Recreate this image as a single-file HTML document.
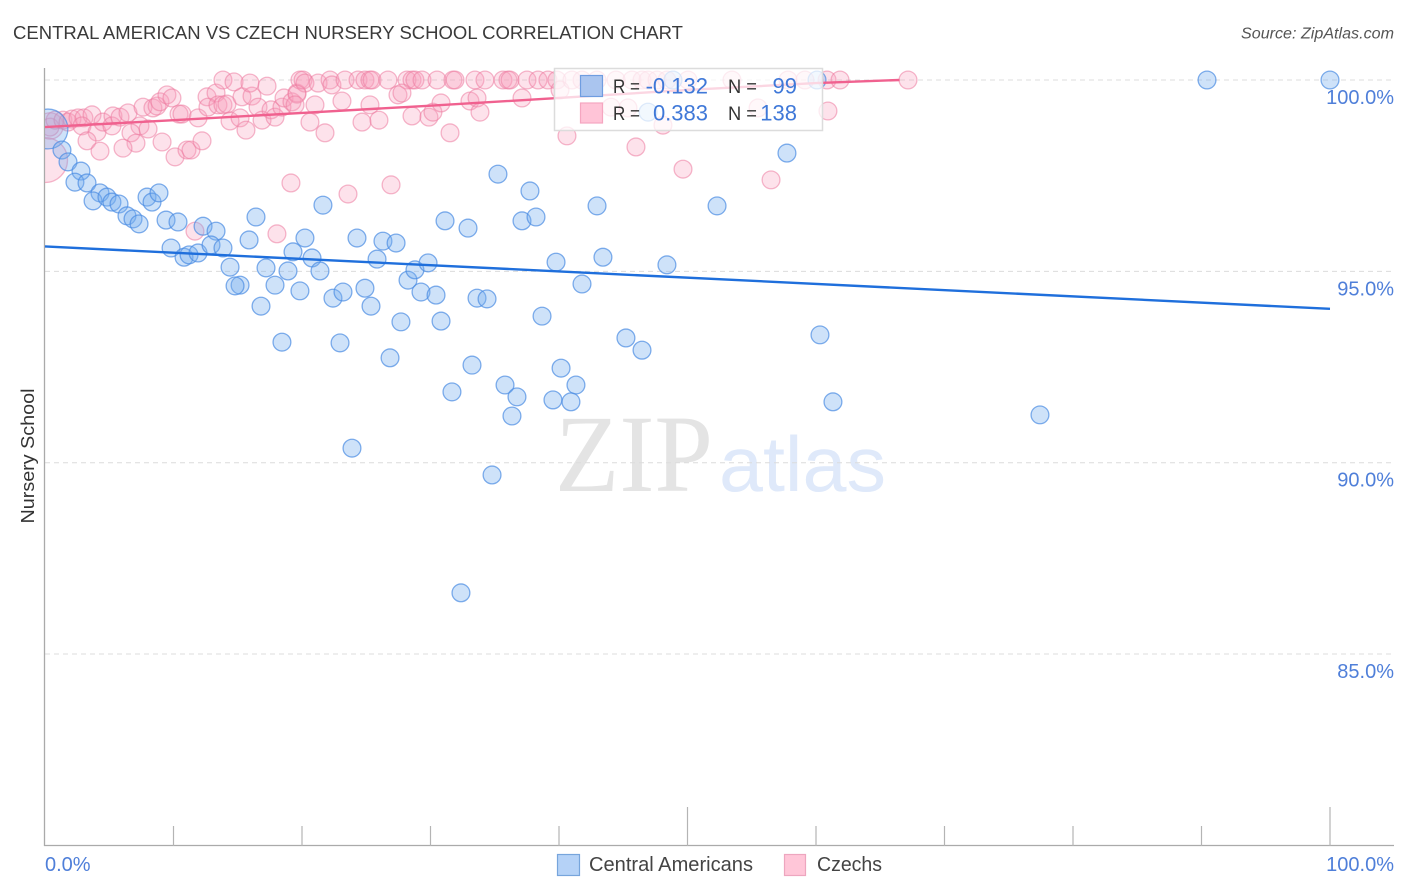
<!DOCTYPE html>
<html lang="en">
<head>
<meta charset="utf-8">
<title>Central American vs Czech Nursery School Correlation Chart</title>
<style>
html,body{margin:0;padding:0;background:#fff;}
body{width:1406px;height:892px;overflow:hidden;font-family:"Liberation Sans",sans-serif;}
svg{display:block;}
text{font-family:"Liberation Sans",sans-serif;}
</style>
</head>
<body>
<svg id="chart" width="1406" height="892" viewBox="0 0 1406 892" xmlns="http://www.w3.org/2000/svg">
  <defs><clipPath id="plot-clip"><rect x="45" y="60" width="1349" height="786"/></clipPath></defs>
  <text x="13" y="39" font-size="18.5" fill="#3a3a3a" textLength="670" lengthAdjust="spacingAndGlyphs">CENTRAL AMERICAN VS CZECH NURSERY SCHOOL CORRELATION CHART</text>
  <text x="1394" y="38.5" font-size="15.5" font-style="italic" fill="#555" text-anchor="end" textLength="153" lengthAdjust="spacingAndGlyphs">Source: ZipAtlas.com</text>
  <g id="watermark">
    <text x="555" y="491" font-size="110" fill="#e4e4e4" style="font-family:'Liberation Serif',serif" textLength="158" lengthAdjust="spacingAndGlyphs">ZIP</text>
    <text x="719" y="491" font-size="78" fill="#dfe9fa" textLength="167" lengthAdjust="spacingAndGlyphs">atlas</text>
  </g>
  <g id="grid"></g>
  <g id="axes"></g>
  <g id="pink-points" clip-path="url(#plot-clip)"></g>
  <g id="blue-points" clip-path="url(#plot-clip)"></g>
  <g id="trends"></g>
  <g id="labels"></g>
  <text transform="translate(34,456) rotate(-90)" font-size="18.5" fill="#333" text-anchor="middle" textLength="135" lengthAdjust="spacingAndGlyphs">Nursery School</text>

  <g>
    <rect x="554.5" y="68.5" width="268" height="62" fill="#fff" fill-opacity="0.74" stroke="#dcdcdc" stroke-width="1.5"/>
    <rect x="580.5" y="75.5" width="22" height="21" fill="#aac5ef" stroke="#6f9de0" stroke-width="1.2"/>
    <rect x="580.5" y="103" width="22" height="20" fill="#ffc4d7" stroke="#f5a6c0" stroke-width="1.2"/>
    <text x="613" y="93" font-size="19" fill="#333" textLength="27" lengthAdjust="spacingAndGlyphs">R =</text>
    <text x="708" y="93.5" font-size="22" fill="#3f78d8" text-anchor="end">-0.132</text>
    <text x="728" y="93" font-size="19" fill="#333" textLength="29" lengthAdjust="spacingAndGlyphs">N =</text>
    <text x="797" y="93.5" font-size="22" fill="#3f78d8" text-anchor="end">99</text>
    <text x="613" y="120" font-size="19" fill="#333" textLength="27" lengthAdjust="spacingAndGlyphs">R =</text>
    <text x="708" y="120.5" font-size="22" fill="#3f78d8" text-anchor="end">0.383</text>
    <text x="728" y="120" font-size="19" fill="#333" textLength="29" lengthAdjust="spacingAndGlyphs">N =</text>
    <text x="797" y="120.5" font-size="22" fill="#3f78d8" text-anchor="end">138</text>
  </g>

  <g>
    <rect x="557.5" y="854.5" width="22" height="21" fill="#b5d2f7" stroke="#77a5dc" stroke-width="1.2"/>
    <text x="589" y="871" font-size="20" fill="#444" textLength="164" lengthAdjust="spacingAndGlyphs">Central Americans</text>
    <rect x="784.5" y="854.5" width="21" height="21" fill="#ffc6d8" stroke="#eda6bf" stroke-width="1.2"/>
    <text x="817" y="871" font-size="20" fill="#444" textLength="65" lengthAdjust="spacingAndGlyphs">Czechs</text>
  </g>
</svg>
<script>
const yTickValues = [100, 95, 90, 85];
const yTickLabels = ["100.0%", "95.0%", "90.0%", "85.0%"];
const xTickValues = [10, 20, 30, 40, 50, 60, 70, 80, 90, 100];
const xMajorTicks = [50, 100];
const xEndValues = [0, 100];
const xEndLabels = ["0.0%", "100.0%"];

const centralX = [0.23,1.32,1.79,2.80,2.33,3.27,4.28,3.74,4.82,5.21,5.76,6.38,6.85,7.32,7.94,8.33,8.87,9.42,10.35,12.30,13.31,9.81,10.82,11.21,11.91,12.92,13.85,14.40,15.88,16.42,17.20,19.30,17.90,18.91,20.23,20.78,19.84,15.18,14.79,16.81,18.44,21.40,22.41,23.19,22.96,24.28,25.84,26.30,27.32,24.90,25.37,21.63,28.25,28.79,29.26,29.81,30.43,27.70,30.82,26.85,31.13,32.92,33.23,33.62,34.40,31.67,23.89,34.79,35.80,36.73,36.34,35.25,37.74,37.12,38.21,39.77,38.68,40.16,41.32,39.53,40.93,41.79,42.96,43.42,45.21,46.46,48.40,52.30,57.74,60.31,61.32,77.43,90.43,100,32.37,46.93,48.87,60.08];
const centralY = [98.72,98.17,97.86,97.62,97.33,97.31,97.05,96.84,96.94,96.81,96.76,96.45,96.37,96.24,96.94,96.81,97.05,96.34,96.29,96.18,96.05,95.61,95.37,95.43,95.48,95.69,95.61,95.11,95.82,96.42,95.09,95.51,94.64,95.01,95.87,95.35,94.49,94.64,94.62,94.09,93.15,95.01,94.30,94.46,93.13,95.87,95.32,95.79,95.74,94.56,94.09,96.73,94.77,95.04,94.46,95.22,94.38,93.68,93.70,92.74,96.32,96.13,92.55,94.30,94.28,91.85,90.38,89.68,92.03,91.72,91.22,97.54,97.10,96.32,96.42,95.24,93.83,92.47,92.03,91.64,91.59,94.67,96.71,95.37,93.26,92.94,95.17,96.71,98.09,93.34,91.59,91.25,100,100,86.60,99.16,100,100];
const centralWeight = [5];

const czechX = [0,0.39,0.39,0.78,1.40,1.79,2.10,2.57,3.03,3.66,2.88,4.05,3.27,4.28,4.51,5.29,5.21,5.84,6.46,7.39,8.02,6.69,7.08,6.07,7.63,8.40,8.72,8.95,9.49,9.88,9.11,10.12,11.05,11.36,12.22,10.43,10.66,11.91,12.61,13.31,12.68,13.46,13.85,14.16,14.40,15.18,15.64,15.33,16.11,16.58,16.89,17.59,17.90,18.44,18.60,19.22,19.61,13.85,14.71,15.95,17.28,19.84,20.08,20.23,19.61,19.46,21.01,21.25,22.18,22.33,23.35,24.36,24.90,25.29,25.45,26.69,28.17,28.56,28.79,29.34,30.51,31.75,31.91,33.46,34.24,35.64,36.03,36.19,37.51,38.37,39.14,39.84,27.47,27.78,23.11,25.29,20.62,21.79,24.67,25.99,28.56,29.88,30.19,30.82,33.07,33.62,33.85,31.52,37.12,40.08,40.62,45.99,49.65,56.50,48.09,60.93,44.05,45.37,55.49,41.01,41.79,42.96,44.44,45.68,46.46,46.93,47.63,48.40,50.04,53.46,57.82,59.14,60.86,61.87,67.16,19.14,23.58,26.93,11.67,18.05];
const czechY = [97.91,98.80,98.77,98.95,98.95,98.90,98.98,99.01,99.01,99.09,98.80,98.64,98.41,98.14,98.90,99.06,98.80,99.03,99.14,98.80,98.72,98.62,98.35,98.22,99.29,99.27,99.32,99.43,99.61,99.53,98.38,97.99,98.17,98.17,98.41,99.11,99.11,99.01,99.56,99.66,99.29,99.35,99.35,99.37,98.93,99.01,98.69,99.56,99.58,99.29,98.95,99.22,99.03,99.29,99.53,99.43,99.66,100,99.95,99.92,99.84,100,100,99.92,99.63,99.35,99.35,99.92,100,99.87,100,100,100,100,100,100,100,100,100,100,100,100,100,100,100,100,100,100,100,100,100,100,99.61,99.66,99.45,99.35,98.90,98.62,98.90,98.95,99.06,99.03,99.16,99.40,99.45,99.53,99.16,98.62,99.53,99.74,98.54,98.25,97.67,97.39,98.82,99.19,99.29,99.27,99.27,100,100,100,100,100,100,100,100,100,100,100,100,100,100,100,100,97.31,97.02,97.26,96.05,95.98];
const czechWeight = [6.4, 2.2];

const centralTrendX = [0, 100];
const centralTrendY = [95.65, 94.02];
const czechTrendX = [0, 10, 20, 30, 40, 50, 60, 66.5];
const czechTrendY = [98.77, 98.95, 99.14, 99.33, 99.53, 99.74, 99.92, 100];

const NS = "http://www.w3.org/2000/svg";
function xScale(v) { return 45 + v * 12.85; }
function yScale(v) { return 80 + (100 - v) * 38.27; }
function radius(w) { return 8.9 * Math.sqrt(w); }

const gridG = document.getElementById("grid");
yTickValues.forEach(function (v) {
  const l = document.createElementNS(NS, "line");
  
  
  l.setAttribute("x1", 45);
  l.setAttribute("x2", 1393);
  l.setAttribute("y1", yScale(v));
  l.setAttribute("y2", yScale(v));
  l.setAttribute("stroke", "#dcdcdc");
  l.setAttribute("stroke-width", "1");
  l.setAttribute("stroke-dasharray", "5 4");
  gridG.appendChild(l);
});

const axesG = document.getElementById("axes");
const yAxisLine = document.createElementNS(NS, "line");


yAxisLine.setAttribute("x1", 44.5);
yAxisLine.setAttribute("x2", 44.5);
yAxisLine.setAttribute("y1", 68);
yAxisLine.setAttribute("y2", 846);
yAxisLine.setAttribute("stroke", "#aaa");
yAxisLine.setAttribute("stroke-width", "1.3");
axesG.appendChild(yAxisLine);

const xAxisLine = document.createElementNS(NS, "line");


xAxisLine.setAttribute("x1", 44);
xAxisLine.setAttribute("x2", 1394);
xAxisLine.setAttribute("y1", 845.5);
xAxisLine.setAttribute("y2", 845.5);
xAxisLine.setAttribute("stroke", "#aaa");
xAxisLine.setAttribute("stroke-width", "1.3");
axesG.appendChild(xAxisLine);

xTickValues.forEach(function (v) {
  const major = xMajorTicks.indexOf(v) >= 0;
  const t = document.createElementNS(NS, "line");
  
  
  t.setAttribute("x1", xScale(v));
  t.setAttribute("x2", xScale(v));
  t.setAttribute("y1", major ? 807 : 826);
  t.setAttribute("y2", 846);
  t.setAttribute("stroke", "#b4b4b4");
  t.setAttribute("stroke-width", "1.2");
  axesG.appendChild(t);
});

function drawPoints(groupId, xs, ys, weights, fill, fillAlpha, stroke, strokeAlpha, nameText) {
  const g = document.getElementById(groupId);
  xs.forEach(function (xv, i) {
    const c = document.createElementNS(NS, "circle");
    
    
    c.setAttribute("cx", xScale(xv));
    c.setAttribute("cy", yScale(ys[i]));
    c.setAttribute("r", radius(weights[i] || 1));
    c.setAttribute("fill", fill);
    c.setAttribute("fill-opacity", fillAlpha);
    c.setAttribute("stroke", stroke);
    c.setAttribute("stroke-opacity", strokeAlpha);
    c.setAttribute("stroke-width", "1.3");
    g.appendChild(c);
  });
}
drawPoints("pink-points", czechX, czechY, czechWeight, "#f9a0bc", "0.3", "#ec7ba0", "0.55", "czechs-point");
drawPoints("blue-points", centralX, centralY, centralWeight, "#78aeee", "0.36", "#4a8ce2", "0.7", "central-americans-point");

function linePath(xs, ys) {
  return xs.map(function (xv, i) {
    return (i ? "L" : "M") + xScale(xv) + " " + yScale(ys[i]);
  }).join(" ");
}
const trendG = document.getElementById("trends");
const blueTrend = document.createElementNS(NS, "path");


blueTrend.setAttribute("d", linePath(centralTrendX, centralTrendY));
blueTrend.setAttribute("fill", "none");
blueTrend.setAttribute("stroke", "#1f6fdc");
blueTrend.setAttribute("stroke-width", "2.4");
trendG.appendChild(blueTrend);
const pinkTrend = document.createElementNS(NS, "path");


pinkTrend.setAttribute("d", linePath(czechTrendX, czechTrendY));
pinkTrend.setAttribute("fill", "none");
pinkTrend.setAttribute("stroke", "#f0618f");
pinkTrend.setAttribute("stroke-width", "2.4");
trendG.appendChild(pinkTrend);

const labelG = document.getElementById("labels");
yTickValues.forEach(function (v, i) {
  const t = document.createElementNS(NS, "text");
  
  
  t.setAttribute("x", 1394);
  t.setAttribute("y", yScale(v) + 24);
  t.setAttribute("font-size", "20");
  t.setAttribute("fill", "#4f7fd9");
  t.setAttribute("text-anchor", "end");
  t.textContent = yTickLabels[i];
  labelG.appendChild(t);
});
xEndValues.forEach(function (v, i) {
  const t = document.createElementNS(NS, "text");
  
  
  t.setAttribute("x", i === 0 ? xScale(v) : 1394);
  t.setAttribute("y", 871);
  t.setAttribute("font-size", "20");
  t.setAttribute("fill", "#4f7fd9");
  t.setAttribute("text-anchor", i === 0 ? "start" : "end");
  t.textContent = xEndLabels[i];
  labelG.appendChild(t);
});
</script>
</body>
</html>
